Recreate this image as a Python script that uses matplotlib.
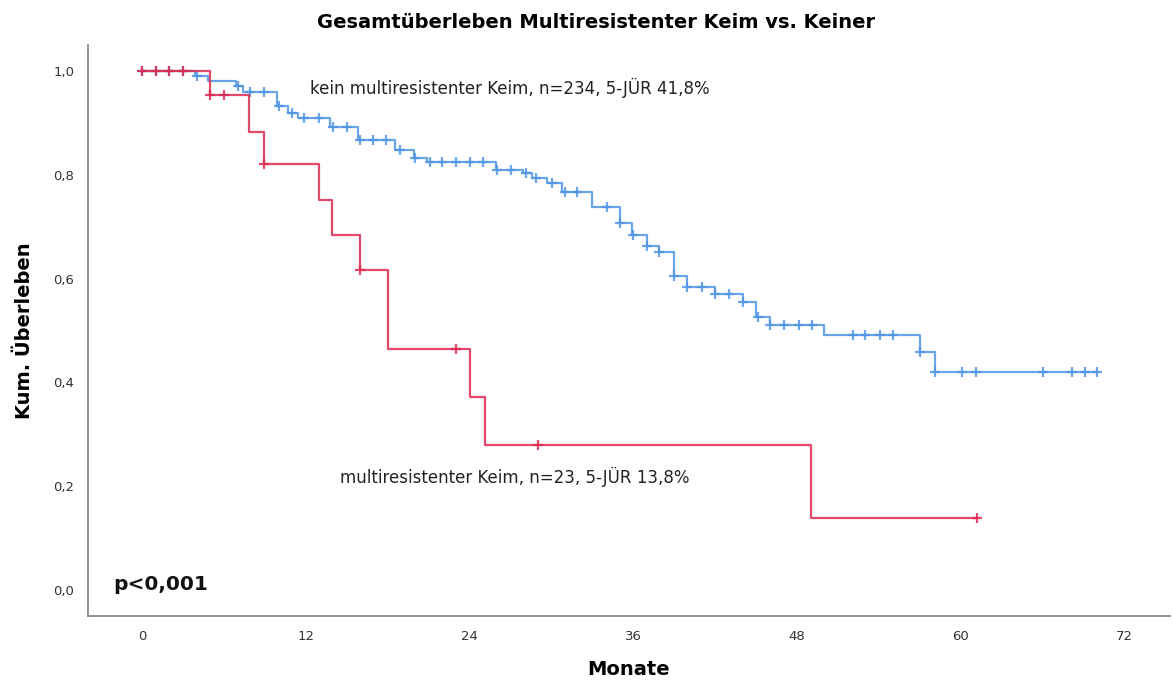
import numpy as np
from matplotlib import pyplot as plt

# kein multiresistenter Keim (n=234)
blue_times = [3.9, 4.8, 6.9, 7.4, 9.9, 10.7, 11.4, 13.8, 15.8, 18.5, 19.9, 20.9,
              25.9, 27.9, 28.6, 29.7, 30.8, 33.0, 35.0, 35.9, 37.0, 37.9, 39.0,
              39.9, 42.0, 44.0, 45.0, 46.0, 50.0, 57.0, 58.1]
blue_surv = [0.990, 0.980, 0.971, 0.960, 0.932, 0.919, 0.909, 0.892, 0.867, 0.848,
             0.832, 0.825, 0.809, 0.803, 0.794, 0.784, 0.767, 0.738, 0.707, 0.684,
             0.663, 0.651, 0.605, 0.584, 0.570, 0.555, 0.526, 0.511, 0.491, 0.459,
             0.420]
blue_end = 70.0
blue_cens = [0, 1, 2, 3, 4, 7.0, 7.9, 8.9, 10.0, 11.0, 11.9, 13.0, 14.0, 15.0, 16.0,
             16.9, 17.9, 18.9, 20.0, 21.1, 22.0, 23.0, 24.0, 25.0, 26.0, 27.0, 28.1,
             28.9, 30.0, 31.0, 31.9, 34.1, 35.0, 36.0, 37.0, 37.9, 39.0, 39.9, 41.0,
             42.0, 43.0, 44.0, 45.1, 46.0, 47.0, 48.1, 49.1, 52.1, 53.0, 54.1, 55.0,
             57.0, 58.1, 60.1, 61.1, 66.0, 68.1, 69.1, 70.0]

# multiresistenter Keim (n=23)
red_times = [5.0, 7.8, 8.9, 13.0, 13.9, 16.0, 18.0, 24.0, 25.1, 49.0]
red_surv = [0.954, 0.882, 0.821, 0.751, 0.684, 0.617, 0.464, 0.372, 0.279, 0.138]
red_end = 61.2
red_cens = [0, 1, 2, 3, 5.0, 6.0, 8.9, 16.0, 23.0, 29.0, 61.2]

x_ticks = [0, 12, 24, 36, 48, 60, 72]
y_ticks = [0.0, 0.2, 0.4, 0.6, 0.8, 1.0]

title = "Gesamtüberleben Multiresistenter Keim vs. Keiner"
label_blue = "kein multiresistenter Keim, n=234, 5-JÜR 41,8%"
label_red = "multiresistenter Keim, n=23, 5-JÜR 13,8%"
p_text = "p<0,001"

BLUE = "#5095e4"
RED = "#dc2a50"


def km_curve(ax, times, surv, end, cens, color):
    t = np.array([0.0] + list(times) + [end])
    s = np.array([1.0] + list(surv) + [surv[-1]])
    ax.step(t, s, where='post', color=color, lw=1.6, alpha=0.85)
    idx = np.searchsorted(t, np.array(cens), side='right') - 1
    ax.plot(cens, s[idx], '+', color=color, ms=7, mew=1.6, alpha=0.85)


fig = plt.figure(figsize=(11.72, 6.83), dpi=100)
ax = fig.add_axes([0.0751, 0.0981, 0.923, 0.836])

km_curve(ax, blue_times, blue_surv, blue_end, blue_cens, BLUE)
km_curve(ax, red_times, red_surv, red_end, red_cens, RED)

ax.set_xlim(-3.96, 75.3)
ax.set_ylim(-0.05, 1.05)
ax.set_xticks(x_ticks)
ax.set_xticklabels([str(v) for v in x_ticks])
ax.set_yticks(y_ticks)
ax.set_yticklabels([f"{v:.1f}".replace('.', ',') for v in y_ticks])
ax.tick_params(length=0, labelsize=9.5, colors='#333333', pad=10)

for side in ('top', 'right'):
    ax.spines[side].set_visible(False)
for side in ('left', 'bottom'):
    ax.spines[side].set_color('#8a8a8a')
    ax.spines[side].set_linewidth(1.3)

ax.text(12.3, 0.967, label_blue, fontsize=12, color='#222222', va='center')
ax.text(14.5, 0.218, label_red, fontsize=12, color='#222222', va='center')
ax.text(-2.1, 0.01, p_text, fontsize=14.5, fontweight='bold', color='#111111', va='center')

ax.set_xlabel("Monate", fontsize=14, fontweight='bold', labelpad=12)
ax.set_ylabel("Kum. Überleben", fontsize=14, fontweight='bold', labelpad=14)
fig.text(0.509, 0.967, title, fontsize=14, fontweight='bold', ha='center', va='center')

fig.savefig("out.png", dpi=100)
